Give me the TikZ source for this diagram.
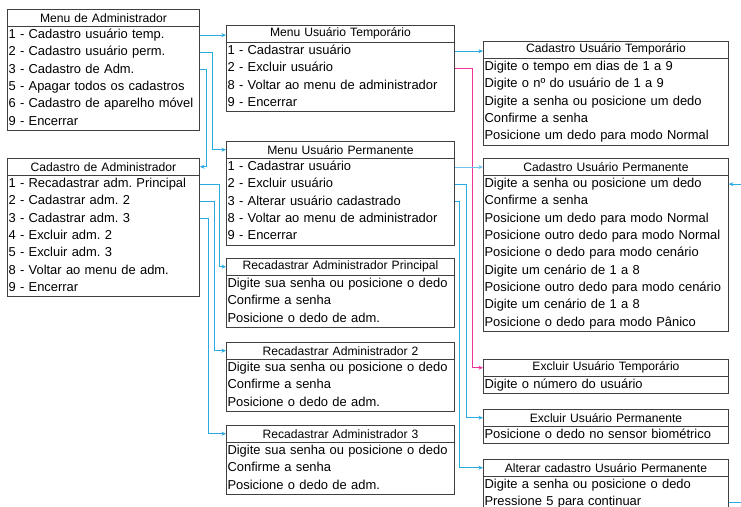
\documentclass[tikz,border=0pt]{standalone}
\usepackage{fontspec}
\setmainfont{Liberation Sans}
\usetikzlibrary{arrows.meta, positioning, fit}
\frenchspacing

\definecolor{linkblue}{RGB}{41,171,226}
\definecolor{linklight}{RGB}{110,196,236}
\definecolor{linkpink}{RGB}{240,50,155}
\definecolor{boxgray}{RGB}{64,64,64}

\begin{document}
\begin{tikzpicture}[
    x=0.75pt, y=-0.75pt,
    every node/.style={font=\fontsize{9.7}{12}\selectfont},
    head/.style={rectangle, draw=boxgray, line width=0.7pt, anchor=north west, inner xsep=0.8pt,
                 inner ysep=0pt, minimum height=12.4pt, align=center, font=\fontsize{9.1}{11}\selectfont},
    entry/.style={rectangle, inner xsep=0.8pt, inner ysep=0pt, minimum height=12.6pt,
                  text height=7.2pt, text depth=2.1pt, align=left},
    outline/.style={rectangle, draw=boxgray, line width=0.7pt, inner sep=0pt},
    wleft/.style={minimum width=144pt, text width=142.4pt},
    wmid/.style={minimum width=171pt, text width=169.4pt},
    wright/.style={minimum width=183.75pt, text width=182.15pt},
    link/.style={-{Stealth[length=3.4pt, width=3pt]}, draw=linkblue, line width=0.75pt},
    plink/.style={link, draw=linkpink}
]
\useasboundingbox (0,0) rectangle (741,506);
\clip (0,0) rectangle (741,506);

% Menu de Administrador
\node[head, wleft] (madm) at (7,9) {Menu de Administrador};
\node[entry, wleft, below=0pt of madm]  (madm1) {1 - Cadastro usuário temp.};
\node[entry, wleft, below=0pt of madm1] (madm2) {2 - Cadastro usuário perm.};
\node[entry, wleft, below=0pt of madm2] (madm3) {3 - Cadastro de Adm.};
\node[entry, wleft, below=0pt of madm3] (madm4) {5 - Apagar todos os cadastros};
\node[entry, wleft, below=0pt of madm4] (madm5) {6 - Cadastro de aparelho móvel};
\node[entry, wleft, below=0pt of madm5] (madm6) {9 - Encerrar};
\node[outline, fit=(madm1)(madm6)] {};

% Cadastro de Administrador
\node[head, wleft] (cadm) at (7,158) {Cadastro de Administrador};
\node[entry, wleft, below=0pt of cadm]  (cadm1) {1 - Recadastrar adm. Principal};
\node[entry, wleft, below=0pt of cadm1] (cadm2) {2 - Cadastrar adm. 2};
\node[entry, wleft, below=0pt of cadm2] (cadm3) {3 - Cadastrar adm. 3};
\node[entry, wleft, below=0pt of cadm3] (cadm4) {4 - Excluir adm. 2};
\node[entry, wleft, below=0pt of cadm4] (cadm5) {5 - Excluir adm. 3};
\node[entry, wleft, below=0pt of cadm5] (cadm6) {8 - Voltar ao menu de adm.};
\node[entry, wleft, below=0pt of cadm6] (cadm7) {9 - Encerrar};
\node[outline, fit=(cadm1)(cadm7)] {};

% Menu Usuario Temporario
\node[head, wmid] (mut) at (226,25) {Menu Usuário Temporário};
\node[entry, wmid, below=0pt of mut]  (mut1) {1 - Cadastrar usuário};
\node[entry, wmid, below=0pt of mut1] (mut2) {2 - Excluir usuário};
\node[entry, wmid, below=0pt of mut2] (mut3) {8 - Voltar ao menu de administrador};
\node[entry, wmid, below=0pt of mut3] (mut4) {9 - Encerrar};
\node[outline, fit=(mut1)(mut4)] {};

% Menu Usuario Permanente
\node[head, wmid] (mup) at (226,141) {Menu Usuário Permanente};
\node[entry, wmid, below=0pt of mup]  (mup1) {1 - Cadastrar usuário};
\node[entry, wmid, below=0pt of mup1] (mup2) {2 - Excluir usuário};
\node[entry, wmid, below=0pt of mup2] (mup3) {3 - Alterar usuário cadastrado};
\node[entry, wmid, below=0pt of mup3] (mup4) {8 - Voltar ao menu de administrador};
\node[entry, wmid, below=0pt of mup4] (mup5) {9 - Encerrar};
\node[outline, fit=(mup1)(mup5)] {};

% Recadastrar Administrador Principal / 2 / 3
\node[head, wmid] (radp) at (226,258) {Recadastrar Administrador Principal};
\node[entry, wmid, below=0pt of radp]  (radp1) {Digite sua senha ou posicione o dedo};
\node[entry, wmid, below=0pt of radp1] (radp2) {Confirme a senha};
\node[entry, wmid, below=0pt of radp2] (radp3) {Posicione o dedo de adm.};
\node[outline, fit=(radp1)(radp3)] {};

\node[head, wmid] (rad2) at (226,342) {Recadastrar Administrador 2};
\node[entry, wmid, below=0pt of rad2]  (rad21) {Digite sua senha ou posicione o dedo};
\node[entry, wmid, below=0pt of rad21] (rad22) {Confirme a senha};
\node[entry, wmid, below=0pt of rad22] (rad23) {Posicione o dedo de adm.};
\node[outline, fit=(rad21)(rad23)] {};

\node[head, wmid] (rad3) at (226,425) {Recadastrar Administrador 3};
\node[entry, wmid, below=0pt of rad3]  (rad31) {Digite sua senha ou posicione o dedo};
\node[entry, wmid, below=0pt of rad31] (rad32) {Confirme a senha};
\node[entry, wmid, below=0pt of rad32] (rad33) {Posicione o dedo de adm.};
\node[outline, fit=(rad31)(rad33)] {};

% Cadastro Usuario Temporario
\node[head, wright] (cut) at (483,41) {Cadastro Usuário Temporário};
\node[entry, wright, below=0pt of cut]  (cut1) {Digite o tempo em dias de 1 a 9};
\node[entry, wright, below=0pt of cut1] (cut2) {Digite o nº do usuário de 1 a 9};
\node[entry, wright, below=0pt of cut2] (cut3) {Digite a senha ou posicione um dedo};
\node[entry, wright, below=0pt of cut3] (cut4) {Confirme a senha};
\node[entry, wright, below=0pt of cut4] (cut5) {Posicione um dedo para modo Normal};
\node[outline, fit=(cut1)(cut5)] {};

% Cadastro Usuario Permanente
\node[head, wright] (cup) at (483,158) {Cadastro Usuário Permanente};
\node[entry, wright, below=0pt of cup]  (cup1) {Digite a senha ou posicione um dedo};
\node[entry, wright, below=0pt of cup1] (cup2) {Confirme a senha};
\node[entry, wright, below=0pt of cup2] (cup3) {Posicione um dedo para modo Normal};
\node[entry, wright, below=0pt of cup3] (cup4) {Posicione outro dedo para modo Normal};
\node[entry, wright, below=0pt of cup4] (cup5) {Posicione o dedo para modo cenário};
\node[entry, wright, below=0pt of cup5] (cup6) {Digite um cenário de 1 a 8};
\node[entry, wright, below=0pt of cup6] (cup7) {Posicione outro dedo para modo cenário};
\node[entry, wright, below=0pt of cup7] (cup8) {Digite um cenário de 1 a 8};
\node[entry, wright, below=0pt of cup8] (cup9) {Posicione o dedo para modo Pânico};
\node[outline, fit=(cup1)(cup9)] {};

% Excluir / Alterar
\node[head, wright] (eut) at (483,359) {Excluir Usuário Temporário};
\node[entry, wright, below=0pt of eut] (eut1) {Digite o número do usuário};
\node[outline, fit=(eut1)] {};

\node[head, wright] (eup) at (483,409) {Excluir Usuário Permanente};
\node[entry, wright, below=0pt of eup] (eup1) {Posicione o dedo no sensor biométrico};
\node[outline, fit=(eup1)] {};

\node[head, wright] (acup) at (483,459) {Alterar cadastro Usuário Permanente};
\node[entry, wright, below=0pt of acup]  (acup1) {Digite a senha ou posicione o dedo};
\node[entry, wright, below=0pt of acup1] (acup2) {Pressione 5 para continuar};
\node[outline, fit=(acup1)(acup2)] {};

% ligacoes
\draw[link] (madm1.east) -- (mut.west |- madm1.east);
\draw[link] (madm2.east) -- ++(13,0) |- (mup.west);
\draw[link] (madm3.east) -- ++(7,0) |- (cadm.east);
\draw[link] (cadm1.east) -- ++(20,0) |- (radp.west);
\draw[link] (cadm2.east) -- ++(15,0) |- (rad2.west);
\draw[link] (cadm3.east) -- ++(9,0) |- (rad3.west);
\draw[link] (mut1.east) -- (cut.west |- mut1.east);
\draw[plink] (mut2.east) -- ++(18,0) |- (eut.west);
\draw[link, draw=linklight] (mup1.east) -- (cup.west |- mup1.east);
\draw[link] (mup2.east) -- ++(12,0) |- (eup.west);
\draw[link] (mup3.east) -- ++(5,0) |- (acup.west);
\draw[link] (acup2.east) -- ++(25,0) |- (cup1.east);
\end{tikzpicture}
\end{document}
